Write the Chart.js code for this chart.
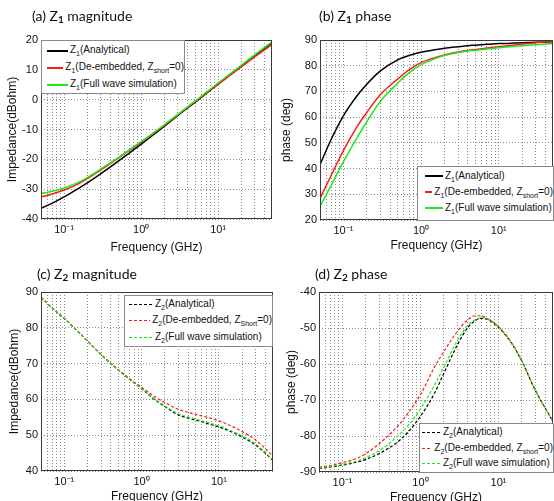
<!DOCTYPE html>
<html>
<head>
<meta charset="utf-8">
<script src="https://cdn.jsdelivr.net/npm/chart.js@4.4.1/dist/chart.umd.min.js"></script>
<style>
  html, body { margin: 0; padding: 0; background: #fff; overflow: hidden; }
  #fig { position: relative; width: 554px; height: 501px; }
  canvas { position: absolute; }
  .ttl { position: absolute; font-family: Lato, 'Open Sans', sans-serif; font-size: 14px; color: #111; white-space: nowrap; line-height: 18px; }
  .ttl sub { font-size: 10px; font-weight: bold; vertical-align: -2px; }
  .lg { position: absolute; background: #fff; border: 1px solid #8a8a8a; box-sizing: border-box;
        font-family: 'Liberation Sans Narrow', 'Liberation Sans', Arial, sans-serif; font-size: 10px; color: #111; }
  .lg .row { display: flex; align-items: center; white-space: nowrap; }
  .lg .smp { display: inline-block; margin-right: 2px; }
  .lg sub { font-size: 7px; vertical-align: -3px; }
</style>
</head>
<body>
<div id="fig"></div>
<script>
// frequency points (GHz)
const freq = [0.05, 0.07, 0.1, 0.15, 0.2, 0.3, 0.5, 0.7, 1, 1.5, 2, 3, 4, 5, 6, 7, 10, 15, 20, 30, 50];

// (a) Z1 magnitude (dBohm)
const z1MagAnalytical = [-36.4, -34.7, -32.6, -29.9, -27.9, -24.8, -20.7, -17.9, -14.9, -11.4, -8.9, -5.3, -2.8, -0.9, 0.7, 2.1, 5.2, 8.7, 11.2, 14.8, 19.0];
const z1MagDeembedded = [-32.6, -31.6, -30.3, -28.3, -26.5, -23.5, -19.7, -17.0, -14.3, -11.0, -8.6, -5.1, -2.6, -0.7, 0.8, 2.2, 5.2, 8.6, 11.0, 14.4, 18.5];
const z1MagFullwave   = [-31.4, -30.7, -29.6, -27.8, -26.1, -23.2, -19.5, -16.8, -14.1, -10.8, -8.4, -4.9, -2.4, -0.5, 1.1, 2.5, 5.6, 9.1, 11.6, 15.1, 19.4];

// (b) Z1 phase (deg)
const z1PhaseAnalytical = [41.5, 51.5, 60.5, 68.3, 72.8, 78.0, 82.3, 84.0, 85.2, 86.2, 86.8, 87.4, 87.8, 88.0, 88.2, 88.3, 88.6, 88.8, 88.9, 89.1, 89.3];
const z1PhaseDeembedded = [28.4, 37.5, 47.0, 56.3, 61.8, 68.8, 74.8, 78.4, 81.2, 83.1, 84.2, 85.3, 85.9, 86.3, 86.6, 86.9, 87.4, 88.0, 88.4, 88.9, 89.5];
const z1PhaseFullwave   = [25.2, 33.6, 42.6, 52.0, 58.2, 66.2, 73.2, 77.2, 80.4, 82.7, 84.0, 85.1, 85.7, 86.0, 86.3, 86.5, 87.0, 87.5, 87.8, 88.2, 88.6];

// (c) Z2 magnitude (dBohm)
const z2MagAnalytical = [88.5, 85.5, 82.6, 79.0, 76.3, 72.5, 68.2, 65.6, 63.0, 59.8, 58.0, 55.6, 54.8, 54.2, 53.8, 53.3, 52.3, 50.8, 49.5, 47.2, 43.0];
const z2MagDeembedded = [88.5, 85.5, 82.6, 79.0, 76.3, 72.5, 68.3, 65.8, 63.4, 60.7, 59.1, 57.2, 56.4, 55.8, 55.4, 55.0, 54.0, 52.4, 51.0, 48.6, 44.2];
const z2MagFullwave   = [88.5, 85.5, 82.6, 79.0, 76.3, 72.5, 68.2, 65.7, 63.1, 60.0, 58.2, 55.9, 55.1, 54.5, 54.0, 53.6, 52.6, 51.1, 49.8, 47.5, 43.2];

// (d) Z2 phase (deg)
const z2PhaseAnalytical = [-89.0, -88.6, -88.1, -87.3, -86.5, -84.8, -81.8, -78.8, -74.5, -68.3, -62.5, -54.5, -50.0, -48.0, -47.3, -47.5, -49.8, -54.5, -59.3, -67.5, -76.0];
const z2PhaseDeembedded = [-88.7, -88.2, -87.4, -86.3, -84.9, -82.0, -77.5, -73.5, -68.5, -61.0, -56.5, -50.8, -47.8, -46.6, -46.6, -47.2, -49.6, -54.3, -59.2, -67.5, -76.0];
const z2PhaseFullwave   = [-88.9, -88.4, -87.9, -87.0, -86.0, -84.0, -80.2, -77.0, -72.5, -66.0, -60.8, -53.3, -49.4, -47.7, -47.2, -47.4, -49.8, -54.4, -59.3, -67.6, -76.0];

// axes
const xRange = [0.05, 50];
const yRangeA = [-40, 20];
const yRangeB = [20, 90];
const yRangeC = [40, 90];
const yRangeD = [-90, -40];

// text
const panelTitles = ['(a) Z<sub>1</sub> magnitude', '(b) Z<sub>1</sub> phase', '(c) Z<sub>2</sub> magnitude', '(d) Z<sub>2</sub> phase'];
const yTitles = ['Impedance(dBohm)', 'phase (deg)', 'Impedance(dBohm)', 'phase (deg)'];
const xTitle = 'Frequency (GHz)';
const legendZ1 = ['Z<sub>1</sub>(Analytical)', 'Z<sub>1</sub>(De-embedded, Z<sub>short</sub>=0)', 'Z<sub>1</sub>(Full wave simulation)'];
const legendZ2c = ['Z<sub>2</sub>(Analytical)', 'Z<sub>2</sub>(De-embedded, Z<sub>Short</sub>=0)', 'Z<sub>2</sub>(Full wave simulation)'];
const legendZ2d = ['Z<sub>2</sub>(Analytical)', 'Z<sub>2</sub>(De-embedded, Z<sub>short</sub>=0)', 'Z<sub>2</sub>(Full wave simulation)'];
const colors = ['#000000', '#ff1a1a', '#1fe81f'];

const FONT = "'Liberation Sans Narrow', 'Liberation Sans', Arial, sans-serif";
const fig = document.getElementById('fig');

// log grid: 1..9 x 10^n inside the range
const gridTicks = [];
for (let n = -2; n <= 1; n++) {
  for (let k = 1; k <= 9; k++) {
    const v = +(k * Math.pow(10, n)).toPrecision(3);
    if (v > xRange[0] && v < xRange[1]) gridTicks.push(v);
  }
}
const sup = { '-': '\u207B', '0': '\u2070', '1': '\u00B9', '2': '\u00B2' };
function decadeLabel(v) {
  const e = Math.log10(v);
  if (Math.abs(e - Math.round(e)) > 1e-6) return '';
  return '10' + String(Math.round(e)).split('').map(c => sup[c]).join('');
}

const frame = {
  id: 'frame',
  afterDraw(chart) {
    const { ctx, chartArea: a } = chart;
    ctx.save();
    ctx.strokeStyle = '#3a3a3a';
    ctx.lineWidth = 1;
    ctx.strokeRect(Math.round(a.left) + 0.5, Math.round(a.top) + 0.5, Math.round(a.right - a.left) - 1, Math.round(a.bottom - a.top) - 1);
    ctx.restore();
  }
};

function makePanel(p) {
  const cv = document.createElement('canvas');
  cv.width = p.w; cv.height = p.h;
  cv.style.left = p.x + 'px'; cv.style.top = p.y + 'px';
  fig.appendChild(cv);

  const datasets = p.series.map((s, i) => ({
    label: p.legend[i].replace(/<[^>]+>/g, ''),
    data: freq.map((f, j) => ({ x: f, y: s[j] })),
    borderColor: colors[i],
    borderWidth: p.dashed ? 1.2 : 1.5,
    borderDash: p.dashed ? [3, 2] : [],
    pointRadius: 0,
    cubicInterpolationMode: 'monotone',
    order: 2 - i
  }));

  new Chart(cv, {
    type: 'line',
    data: { datasets },
    options: {
      responsive: false,
      animation: false,
      layout: { padding: { left: 0, top: p.area[1] - p.y, right: p.w - (p.area[2] - p.x), bottom: 0 } },
      plugins: { legend: { display: false }, tooltip: { enabled: false } },
      scales: {
        x: {
          type: 'logarithmic',
          min: xRange[0], max: xRange[1],
          afterBuildTicks: sc => { sc.ticks = gridTicks.map(v => ({ value: v })); },
          afterFit: sc => { sc.height = p.h - (p.area[3] - p.y); },
          ticks: { autoSkip: false, maxRotation: 0, padding: 4, color: '#111', font: { family: FONT, size: 11 }, callback: v => decadeLabel(v) },
          grid: { color: '#8c8c8c', lineWidth: 1, drawTicks: false },
          border: { display: false, dash: [1, 2] },
          title: { display: true, text: xTitle, color: '#111', font: { family: FONT, size: 12 }, padding: { top: 0, bottom: p.xtPad } }
        },
        y: {
          min: p.yRange[0], max: p.yRange[1],
          afterFit: sc => { sc.width = p.area[0] - p.x; },
          ticks: { stepSize: 10, padding: 3, color: '#111', font: { family: FONT, size: 11 } },
          grid: { color: '#8c8c8c', lineWidth: 1, drawTicks: false },
          border: { display: false, dash: [1, 2] },
          title: { display: true, text: p.yTitle, color: '#111', font: { family: FONT, size: 12 }, padding: { top: p.ytPad, bottom: 0 } }
        }
      }
    },
    plugins: [frame]
  });

  const t = document.createElement('div');
  t.className = 'ttl';
  t.style.left = p.title[0] + 'px'; t.style.top = p.title[1] + 'px';
  t.innerHTML = p.titleText;
  fig.appendChild(t);

  const L = p.lg;
  const lg = document.createElement('div');
  lg.className = 'lg';
  lg.style.left = L.x + 'px'; lg.style.top = L.y + 'px';
  lg.style.width = L.w + 'px'; lg.style.height = L.h + 'px';
  lg.style.paddingTop = L.pt + 'px';
  lg.style.paddingLeft = L.pl + 'px';
  p.legend.forEach((txt, i) => {
    const row = document.createElement('div');
    row.className = 'row';
    row.style.height = L.rh + 'px';
    const fill = p.dashed
      ? `repeating-linear-gradient(90deg, ${colors[i]} 0 3px, transparent 3px 5px)`
      : colors[i];
    row.innerHTML = `<span class="smp" style="width:${L.len}px;height:${p.dashed ? 1 : 2}px;background:${fill}"></span><span>${txt}</span>`;
    lg.appendChild(row);
  });
  fig.appendChild(lg);
}

makePanel({
  x: 0, y: 0, w: 277, h: 256, area: [41, 40, 272, 219], yRange: yRangeA,
  series: [z1MagAnalytical, z1MagDeembedded, z1MagFullwave], legend: legendZ1, dashed: false,
  yTitle: yTitles[0], ytPad: 5, xtPad: 1, title: [32, 7], titleText: panelTitles[0],
  lg: { x: 41, y: 40, w: 144, h: 54, pt: 1, pl: 5, rh: 17, len: 21 }
});
makePanel({
  x: 277, y: 0, w: 277, h: 256, area: [320, 40, 553, 220], yRange: yRangeB,
  series: [z1PhaseAnalytical, z1PhaseDeembedded, z1PhaseFullwave], legend: legendZ1, dashed: false,
  yTitle: yTitles[1], ytPad: 2, xtPad: 3, title: [319, 7], titleText: panelTitles[1],
  lg: { x: 417, y: 166, w: 137, h: 55, pt: 1, pl: 7, rh: 16, len: 18 }
});
makePanel({
  x: 0, y: 252, w: 277, h: 256, area: [41, 292, 273, 471], yRange: yRangeC,
  series: [z2MagAnalytical, z2MagDeembedded, z2MagFullwave], legend: legendZ2c, dashed: true,
  yTitle: yTitles[2], ytPad: 7, xtPad: 4, title: [37, 265], titleText: panelTitles[2],
  lg: { x: 124, y: 295, w: 149, h: 52, pt: 0, pl: 4, rh: 16.5, len: 24 }
});
makePanel({
  x: 277, y: 252, w: 277, h: 256, area: [319, 292, 553, 472], yRange: yRangeD,
  series: [z2PhaseAnalytical, z2PhaseDeembedded, z2PhaseFullwave], legend: legendZ2d, dashed: true,
  yTitle: yTitles[3], ytPad: 7, xtPad: 3, title: [315, 265], titleText: panelTitles[3],
  lg: { x: 419, y: 423, w: 135, h: 50, pt: 1, pl: 2, rh: 15.5, len: 19 }
});
</script>
</body>
</html>
